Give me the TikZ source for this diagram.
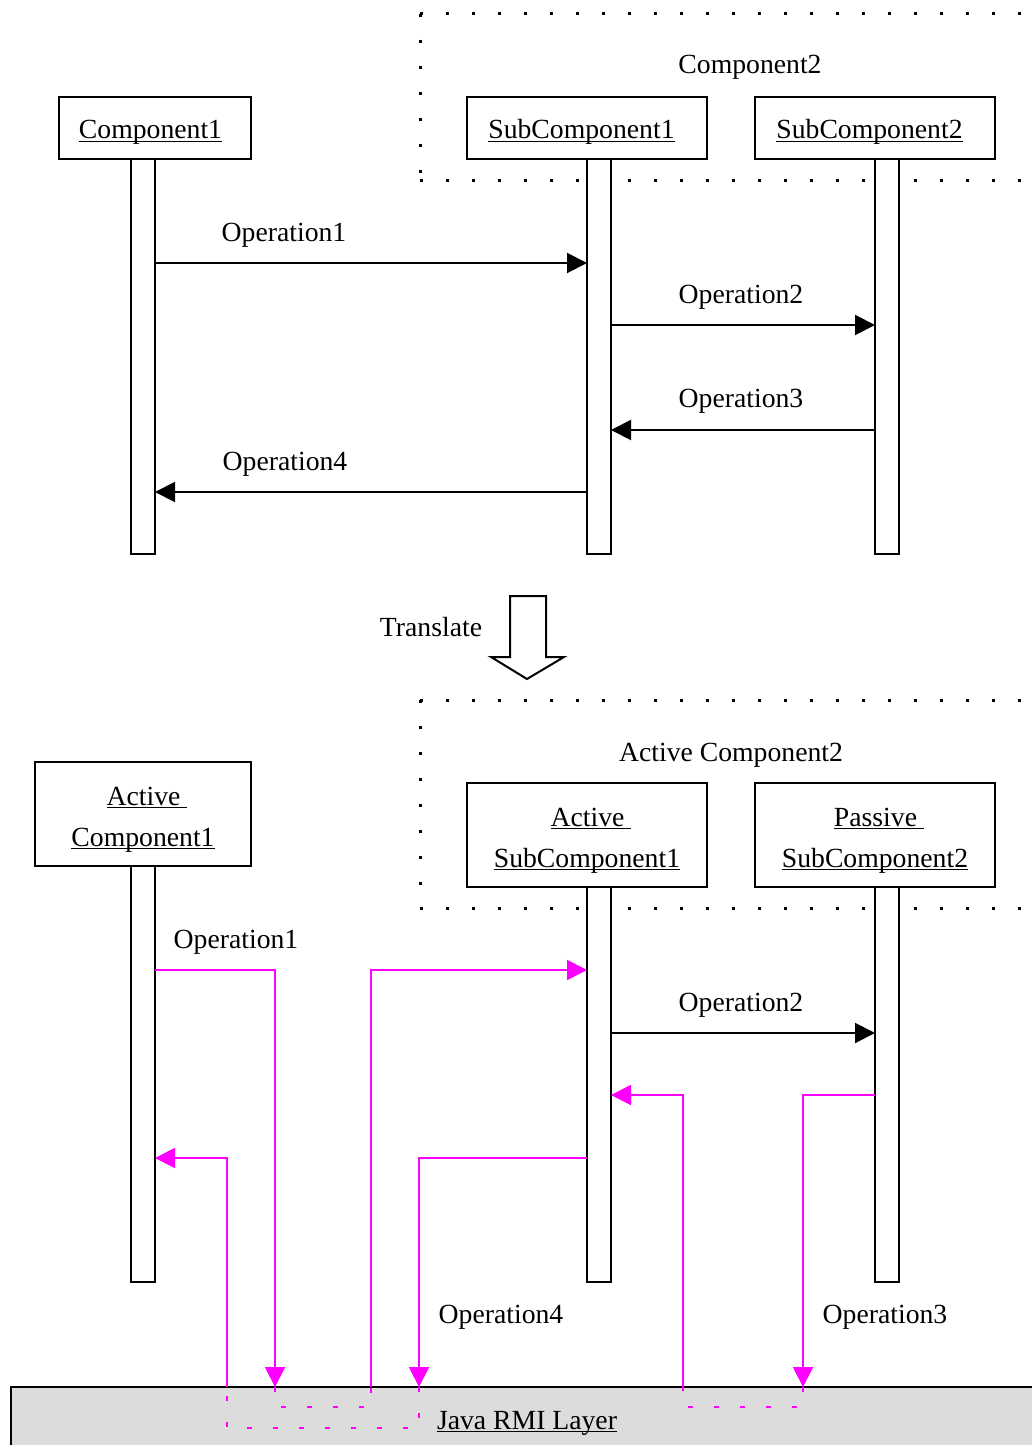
\documentclass[tikz,border=0pt]{standalone}
\usepackage{fontspec}
\setmainfont{Liberation Serif}
\usetikzlibrary{arrows.meta}
\definecolor{mg}{RGB}{255,0,255}
\definecolor{layergray}{RGB}{220,220,220}
% underline at a fixed depth below the baseline
\newcommand\myul[1]{\setbox0\hbox{#1}\rlap{\rule[-1.7pt]{\wd0}{0.6pt}}\box0}

\begin{document}
\begin{tikzpicture}[x=0.5pt,y=-0.5pt,
  txt/.style={font=\fontsize{13.85pt}{20.5pt}\selectfont},
  lbl/.style={txt, inner sep=0, anchor=base},
  obj/.style={draw, line width=1pt, fill=white, inner sep=0, outer sep=0,
    minimum height=31pt},
  obj2/.style={obj, minimum height=52pt},
  bar/.style={draw, line width=1pt, fill=white, minimum width=12pt,
    inner sep=0, outer sep=0},
  msg/.style={line width=1pt, -{Triangle[length=10pt,width=10pt]}},
  rmiarrow/.style={msg, draw=mg},
  rmidash/.style={draw=mg, line width=1pt, dash pattern=on 2.5pt off 10.5pt},
  dotline/.style={line width=1.5pt, dash pattern=on 1.5pt off 11.5pt},
  layer/.style={draw, line width=1pt, fill=layergray, inner sep=0, outer sep=0},
  hollow/.style={draw, line width=1pt, fill=white, line join=miter}
]
\useasboundingbox (0,0) rectangle (1032,1445);

% ---------- upper diagram ----------
% Component2 frame
\draw[dotline] (420,14) -- (1050,14);
\draw[dotline] (420,14) -- (420,180);
\draw[dotline] (420,180) -- (1050,180);
\node[lbl] (c2lbl) at (750,74) {Component2};

\node[obj, minimum width=96pt]  (c1) at (155,128) {};
\node[obj, minimum width=120pt] (s1) at (587,128) {};
\node[obj, minimum width=120pt] (s2) at (875,128) {};
\node[lbl] (c1t) at (150.5,139) {\myul{Component1}};
\node[lbl] (s1t) at (581.5,139) {\myul{SubComponent1}};
\node[lbl] (s2t) at (869.5,139) {\myul{SubComponent2}};

\node[bar, minimum height=197.5pt] (bar1) at (143,356.5) {};
\node[bar, minimum height=197.5pt] (bar2) at (599,356.5) {};
\node[bar, minimum height=197.5pt] (bar3) at (887,356.5) {};

\draw[msg] (bar1.east |- 0,263) -- (bar2.west |- 0,263);
\node[lbl] (op1) at (284,241) {Operation1};
\draw[msg] (bar2.east |- 0,325) -- (bar3.west |- 0,325);
\node[lbl] (op2) at (741,303) {Operation2};
\draw[msg] (bar3.west |- 0,430) -- (bar2.east |- 0,430);
\node[lbl] (op3) at (741,407) {Operation3};
\draw[msg] (bar2.west |- 0,492) -- (bar1.east |- 0,492);
\node[lbl] (op4) at (285,470) {Operation4};

% ---------- translation ----------
\node[lbl] (tr) at (431,636) {Translate};
\draw[hollow] (510,596) -- (546,596) -- (546,657) -- (564,657) -- (527,679)
  -- (491,657) -- (510,657) -- cycle;

% ---------- lower diagram ----------
\draw[dotline] (420,700) -- (1050,700);
\draw[dotline] (420,700) -- (420,908);
\draw[dotline] (420,908) -- (1050,908);
\node[lbl] (ac2lbl) at (731,761) {Active Component2};

\node[obj2, minimum width=108pt] (ac1) at (143,814) {};
\node[obj2, minimum width=120pt] (as1) at (587,835) {};
\node[obj2, minimum width=120pt] (ps2) at (875,835) {};
\node[lbl] (ac1a) at (147,805) {\myul{Active\ }};
\node[lbl] (ac1b) at (143,846) {\myul{Component1}};
\node[lbl] (as1a) at (591,826) {\myul{Active\ }};
\node[lbl] (as1b) at (587,867) {\myul{SubComponent1}};
\node[lbl] (ps2a) at (879,826) {\myul{Passive\ }};
\node[lbl] (ps2b) at (875,867) {\myul{SubComponent2}};

\node[bar, minimum height=208pt]   (abar1) at (143,1074) {};
\node[bar, minimum height=197.5pt] (abar2) at (599,1084.5) {};
\node[bar, minimum height=197.5pt] (abar3) at (887,1084.5) {};

% Java RMI layer
\node[layer, anchor=north west, minimum width=530pt, minimum height=40pt]
  (rmi) at (11,1387) {};
\node[lbl] (rmilbl) at (527,1429) {\myul{Java RMI Layer}};

% Operation1 through the RMI layer
\draw[rmiarrow] (abar1.east |- 0,970) -| (rmi.north -| 275,0);
\draw[rmidash] (rmi.north -| 275,0) -- (275,1407) -- (371,1407) -- (rmi.north -| 371,0);
\draw[rmiarrow] (rmi.north -| 371,0) |- (abar2.west |- 0,970);
\node[lbl] (bop1) at (236,948) {Operation1};

% Operation2, local call
\draw[msg] (abar2.east |- 0,1033) -- (abar3.west |- 0,1033);
\node[lbl] (bop2) at (741,1011) {Operation2};

% Operation3 through the RMI layer
\draw[rmiarrow] (abar3.west |- 0,1095) -| (rmi.north -| 803,0);
\draw[rmidash] (rmi.north -| 803,0) -- (803,1407) -- (683,1407) -- (rmi.north -| 683,0);
\draw[rmiarrow] (rmi.north -| 683,0) |- (abar2.east |- 0,1095);
\node[lbl] (bop3) at (885,1323) {Operation3};

% Operation4 through the RMI layer
\draw[rmiarrow] (abar2.west |- 0,1158) -| (rmi.north -| 419,0);
\draw[rmidash] (rmi.north -| 419,0) -- (419,1428) -- (227,1428) -- (rmi.north -| 227,0);
\draw[rmiarrow] (rmi.north -| 227,0) |- (abar1.east |- 0,1158);
\node[lbl] (bop4) at (501,1323) {Operation4};

\end{tikzpicture}
\end{document}
